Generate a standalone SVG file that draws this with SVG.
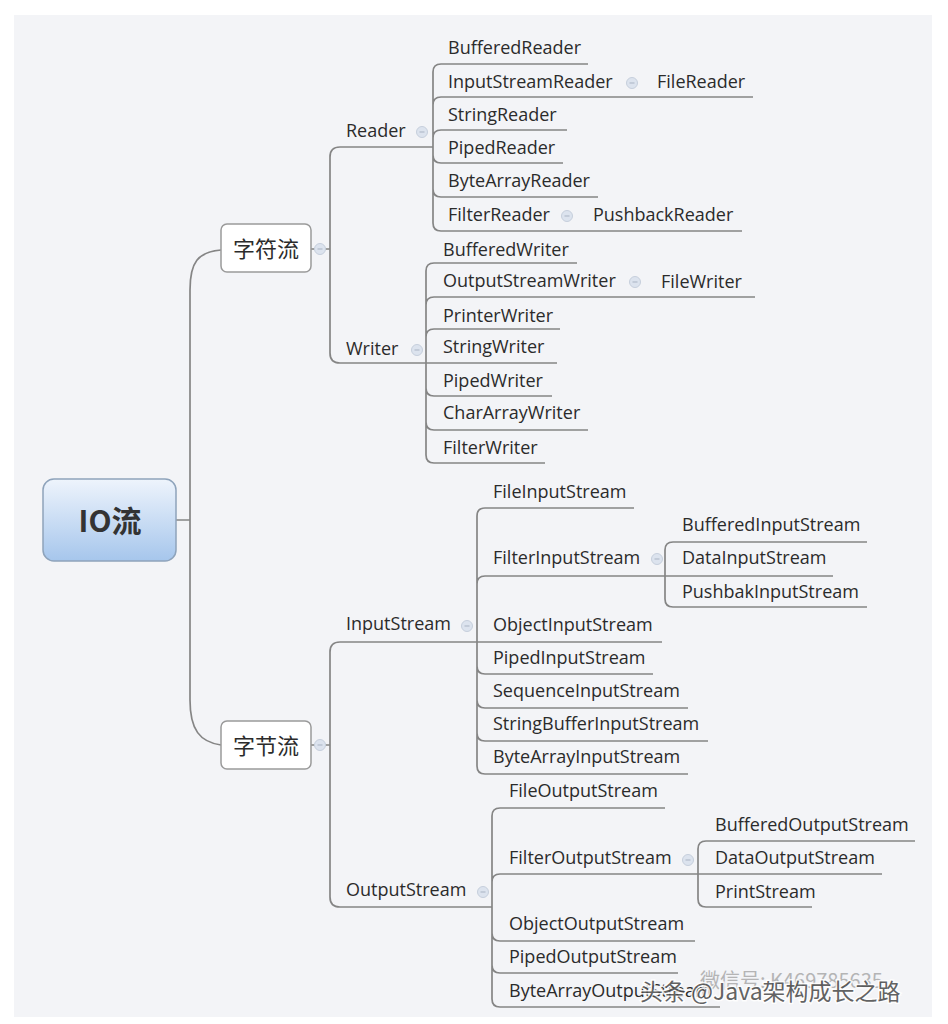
<svg xmlns="http://www.w3.org/2000/svg" width="948" height="1024" viewBox="0 0 948 1024">
<defs>
<style>
.t{font-family:"Open Sans","Noto Sans",sans-serif;font-size:18px;fill:#2b2b2b}
.cn{font-family:"Noto Sans CJK SC","Noto Sans",sans-serif;font-size:22px;fill:#2b2b2b}
.ln{fill:none;stroke:#858585;stroke-width:1.7}
.box{fill:#fff;stroke:#9a9a9a;stroke-width:1.5}
.wm{font-family:"Noto Sans CJK SC","Noto Sans",sans-serif}
</style>
<linearGradient id="rootg" x1="0" y1="0" x2="0" y2="1">
<stop offset="0" stop-color="#eef4fc"/>
<stop offset="1" stop-color="#a6c6ec"/>
</linearGradient>
<g id="col">
<circle r="5.5" fill="#dce3ee" stroke="#c6cfdc" stroke-width="1"/>
<line x1="-2.5" y1="0" x2="2.5" y2="0" stroke="#a9b3c3" stroke-width="1"/>
</g>
</defs>
<rect x="0" y="0" width="948" height="1024" fill="#fff"/>
<rect x="14" y="15" width="918" height="1002" fill="#f3f4f7"/>

<g id="connectors">
<path class="ln" d="M176,520 L190,520 M190,520 L190,290 C190,262 198,252 221,250 M190,520 L190,700 C190,730 200,742 221,745"/>
<path class="ln" d="M311,249 L330,249 M330,249 L330,157 Q330,147 340,147 L433,147 M330,249 L330,353 Q330,363 340,363 L426,363"/>
<path class="ln" d="M311,745 L330,745 M330,745 L330,652 Q330,642 340,642 L477,642 M330,745 L330,897 Q330,907 340,907 L492,907"/>
<path class="ln" d="M433,147 L433,72 Q433,64 441,64 L588,64 M433,147 L433,105 Q433,97 441,97 L753,97 M433,147 L433,138 Q433,130 441,130 L567,130 M433,147 L433,155 Q433,163 441,163 L563,163 M433,147 L433,189 Q433,197 441,197 L598,197 M433,147 L433,223 Q433,231 441,231 L742,231"/>
<path class="ln" d="M426,363 L426,271 Q426,263 434,263 L577,263 M426,363 L426,305 Q426,297 434,297 L755,297 M426,363 L426,337 Q426,329 434,329 L560,329 M426,363 L557,363 M426,363 L426,388 Q426,396 434,396 L552,396 M426,363 L426,422 Q426,430 434,430 L588,430 M426,363 L426,455 Q426,463 434,463 L545,463"/>
<path class="ln" d="M477,642 L477,516 Q477,508 485,508 L634,508 M477,642 L477,584 Q477,576 485,576 L833,576 M477,642 L662,642 M477,642 L477,666 Q477,674 485,674 L653,674 M477,642 L477,700 Q477,708 485,708 L688,708 M477,642 L477,733 Q477,741 485,741 L708,741 M477,642 L477,766 Q477,774 485,774 L688,774"/>
<path class="ln" d="M665,576 L665,550 Q665,542 673,542 L867,542 M665,576 L665,599 Q665,607 673,607 L867,607"/>
<path class="ln" d="M492,907 L492,816 Q492,808 500,808 L665,808 M492,907 L492,882 Q492,874 500,874 L882,874 M492,907 L492,933 Q492,941 500,941 L695,941 M492,907 L492,965 Q492,973 500,973 L678,973 M492,907 L492,999 Q492,1007 500,1007 L720,1007"/>
<path class="ln" d="M698,874 L698,849 Q698,841 706,841 L915,841 M698,874 L698,899 Q698,907 706,907 L812,907"/>
</g>

<g id="root">
<rect x="43" y="479" width="133" height="82" rx="11" fill="url(#rootg)" stroke="#8ea3bb" stroke-width="1.5"/>
<text x="110" y="532" text-anchor="middle" font-family="Noto Sans CJK SC, Noto Sans, sans-serif" font-weight="bold" font-size="30" fill="#333">IO流</text>
</g>

<g id="zifuliu">
<rect class="box" x="221" y="224" width="90" height="48" rx="6"/>
<text class="cn" x="266" y="257" text-anchor="middle">字符流</text>
<use href="#col" x="320" y="249"/>
</g>
<g id="zijieliu">
<rect class="box" x="221" y="721" width="90" height="48" rx="6"/>
<text class="cn" x="266" y="754" text-anchor="middle">字节流</text>
<use href="#col" x="320" y="745"/>
</g>

<g id="reader"><text class="t" x="346" y="137">Reader</text><use href="#col" x="422" y="132"/></g>
<g id="bufferedreader"><text class="t" x="448" y="54">BufferedReader</text></g>
<g id="inputstreamreader"><text class="t" x="448" y="88">InputStreamReader</text><use href="#col" x="632" y="83"/></g>
<g id="filereader"><text class="t" x="657" y="88">FileReader</text></g>
<g id="stringreader"><text class="t" x="448" y="121">StringReader</text></g>
<g id="pipedreader"><text class="t" x="448" y="154">PipedReader</text></g>
<g id="bytearrayreader"><text class="t" x="448" y="187">ByteArrayReader</text></g>
<g id="filterreader"><text class="t" x="448" y="221">FilterReader</text><use href="#col" x="567" y="216"/></g>
<g id="pushbackreader"><text class="t" x="593" y="221">PushbackReader</text></g>

<g id="writer"><text class="t" x="346" y="355">Writer</text><use href="#col" x="417" y="350"/></g>
<g id="bufferedwriter"><text class="t" x="443" y="256">BufferedWriter</text></g>
<g id="outputstreamwriter"><text class="t" x="443" y="287">OutputStreamWriter</text><use href="#col" x="635" y="282"/></g>
<g id="filewriter"><text class="t" x="661" y="288">FileWriter</text></g>
<g id="printerwriter"><text class="t" x="443" y="322">PrinterWriter</text></g>
<g id="stringwriter"><text class="t" x="443" y="353">StringWriter</text></g>
<g id="pipedwriter"><text class="t" x="443" y="387">PipedWriter</text></g>
<g id="chararraywriter"><text class="t" x="443" y="419">CharArrayWriter</text></g>
<g id="filterwriter"><text class="t" x="443" y="454">FilterWriter</text></g>

<g id="inputstream"><text class="t" x="346" y="630">InputStream</text><use href="#col" x="467" y="626"/></g>
<g id="fileinputstream"><text class="t" x="493" y="498">FileInputStream</text></g>
<g id="filterinputstream"><text class="t" x="493" y="564">FilterInputStream</text><use href="#col" x="657" y="559"/></g>
<g id="bufferedinputstream"><text class="t" x="682" y="531">BufferedInputStream</text></g>
<g id="datainputstream"><text class="t" x="682" y="564">DataInputStream</text></g>
<g id="pushbakinputstream"><text class="t" x="682" y="598">PushbakInputStream</text></g>
<g id="objectinputstream"><text class="t" x="493" y="631">ObjectInputStream</text></g>
<g id="pipedinputstream"><text class="t" x="493" y="664">PipedInputStream</text></g>
<g id="sequenceinputstream"><text class="t" x="493" y="697">SequenceInputStream</text></g>
<g id="stringbufferinputstream"><text class="t" x="493" y="730">StringBufferInputStream</text></g>
<g id="bytearrayinputstream"><text class="t" x="493" y="763">ByteArrayInputStream</text></g>

<g id="outputstream"><text class="t" x="346" y="896">OutputStream</text><use href="#col" x="483" y="892"/></g>
<g id="fileoutputstream"><text class="t" x="509" y="797">FileOutputStream</text></g>
<g id="filteroutputstream"><text class="t" x="509" y="864">FilterOutputStream</text><use href="#col" x="688" y="860"/></g>
<g id="bufferedoutputstream"><text class="t" x="715" y="831">BufferedOutputStream</text></g>
<g id="dataoutputstream"><text class="t" x="715" y="864">DataOutputStream</text></g>
<g id="printstream"><text class="t" x="715" y="898">PrintStream</text></g>
<g id="objectoutputstream"><text class="t" x="509" y="930">ObjectOutputStream</text></g>
<g id="pipedoutputstream"><text class="t" x="509" y="963">PipedOutputStream</text></g>
<g id="bytearrayoutputstream"><text class="t" x="509" y="997">ByteArrayOutputStream</text></g>

<g id="watermark">
<text class="wm" x="700" y="988" font-size="20" fill="#9a9a9a" opacity="0.7">微信号: K469785635</text>
<text class="wm" x="640" y="1000" font-size="23" fill="#4a4a4a" stroke="#ffffff" stroke-width="3" paint-order="stroke" opacity="0.85">头条 @Java架构成长之路</text>
</g>
</svg>
